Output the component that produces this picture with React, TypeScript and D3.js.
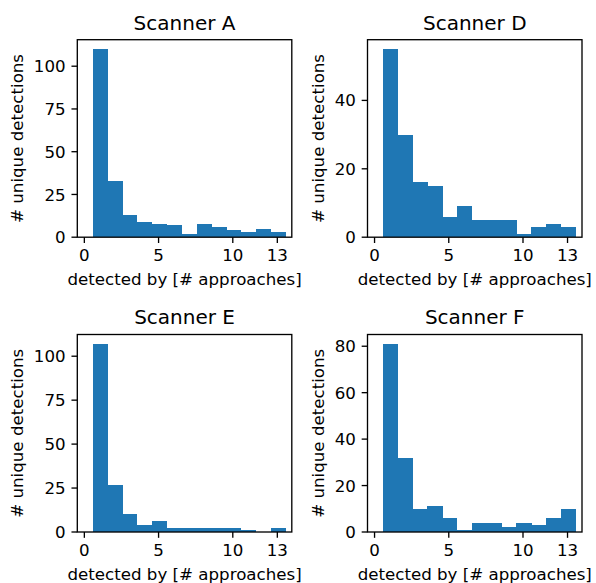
import React from "react";
import * as d3 from "d3";

// ---- data ----
const approaches = [1, 2, 3, 4, 5, 6, 7, 8, 9, 10, 11, 12, 13];
const scannerA = [110, 33, 13, 9, 8, 7, 2, 8, 6, 4, 3, 5, 3];
const scannerD = [55, 30, 16, 15, 6, 9, 5, 5, 5, 1, 3, 4, 3];
const scannerE = [107, 27, 10, 4, 6, 2, 2, 2, 2, 2, 1, 0, 2];
const scannerF = [81, 32, 10, 11, 6, 1, 4, 4, 2, 4, 3, 6, 10];
const titles = ["Scanner A", "Scanner D", "Scanner E", "Scanner F"];
const xTicks = [0, 5, 10, 13];
const yTicksA = [0, 25, 50, 75, 100];
const yTicksD = [0, 20, 40];
const yTicksE = [0, 25, 50, 75, 100];
const yTicksF = [0, 20, 40, 60, 80];
const xLabel = "detected by [# approaches]";
const yLabel = "# unique detections";

// ---- layout ----
const W = 596;
const H = 583;
const panelLefts = [77.3, 367.5];
const panelTops = [39.7, 334.5];
const PW = 214.5;
const PH = 197.5;
const FONT = "DejaVu Sans, sans-serif";
const BAR = "#1f77b4";
const TICK = 5.83;
const PAD = 5.83;
const LW = 1.33;

type PanelProps = {
  left: number;
  top: number;
  title: string;
  values: number[];
  yTicks: number[];
};

function Panel({ left, top, title, values, yTicks }: PanelProps) {
  const x = d3.scaleLinear().domain([-0.475, 13.975]).range([0, PW]);
  const ymax = (d3.max(values) as number) * 1.05;
  const y = d3.scaleLinear().domain([0, ymax]).range([PH, 0]);
  const fmt = d3.format("d");
  // width of widest tick label (DejaVu digits ~0.636em at 16.67px)
  const maxLen = d3.max(yTicks, (t) => fmt(t).length) as number;
  const tickLabelW = maxLen * 0.636 * 16.67;
  const yLabelX = -TICK - PAD - tickLabelW - 6.67 - 3.9;
  return (
    <g transform={`translate(${left},${top})`}>
      {approaches.map((a, i) => {
        const x0 = x(a - 0.44);
        const x1 = x(a + 0.56);
        const v = values[i];
        if (v <= 0) return null;
        return (
          <rect
            key={a}
            x={x0}
            y={y(v)}
            width={x1 - x0 + 0.3}
            height={PH - y(v)}
            fill={BAR}
            shapeRendering="crispEdges"
          />
        );
      })}
      {/* spines */}
      <rect x={0} y={0} width={PW} height={PH} fill="none" stroke="#000" strokeWidth={LW} />
      {/* x ticks */}
      {xTicks.map((t) => (
        <g key={`x${t}`} transform={`translate(${x(t)},${PH})`}>
          <line y1={0} y2={TICK} stroke="#000" strokeWidth={LW} />
          <text
            y={TICK + PAD + 12.2}
            textAnchor="middle"
            fontFamily={FONT}
            fontSize={16.67}
            fill="#000"
          >
            {fmt(t)}
          </text>
        </g>
      ))}
      {/* y ticks */}
      {yTicks.map((t) => (
        <g key={`y${t}`} transform={`translate(0,${y(t)})`}>
          <line x1={0} x2={-TICK} stroke="#000" strokeWidth={LW} />
          <text
            x={-TICK - PAD}
            y={6.08}
            textAnchor="end"
            fontFamily={FONT}
            fontSize={16.67}
            fill="#000"
          >
            {fmt(t)}
          </text>
        </g>
      ))}
      {/* title */}
      <text
        x={PW / 2}
        y={-10.2}
        textAnchor="middle"
        fontFamily={FONT}
        fontSize={20}
        fill="#000"
      >
        {title}
      </text>
      {/* x label */}
      <text
        x={PW / 2}
        y={PH + 48}
        textAnchor="middle"
        fontFamily={FONT}
        fontSize={16.67}
        fill="#000"
      >
        {xLabel}
      </text>
      {/* y label */}
      <text
        transform={`translate(${yLabelX},${PH / 2}) rotate(-90)`}
        textAnchor="middle"
        fontFamily={FONT}
        fontSize={16.67}
        fill="#000"
      >
        {yLabel}
      </text>
    </g>
  );
}

export default function App() {
  const series = [scannerA, scannerD, scannerE, scannerF];
  const ticks = [yTicksA, yTicksD, yTicksE, yTicksF];
  return (
    <svg
      width={W}
      height={H}
      viewBox={`0 0 ${W} ${H}`}
      style={{ position: "absolute", left: 0, top: 0, background: "#fff" }}
    >
      <rect width={W} height={H} fill="#fff" />
      {series.map((vals, i) => (
        <Panel
          key={titles[i]}
          left={panelLefts[i % 2]}
          top={panelTops[Math.floor(i / 2)]}
          title={titles[i]}
          values={vals}
          yTicks={ticks[i]}
        />
      ))}
    </svg>
  );
}
